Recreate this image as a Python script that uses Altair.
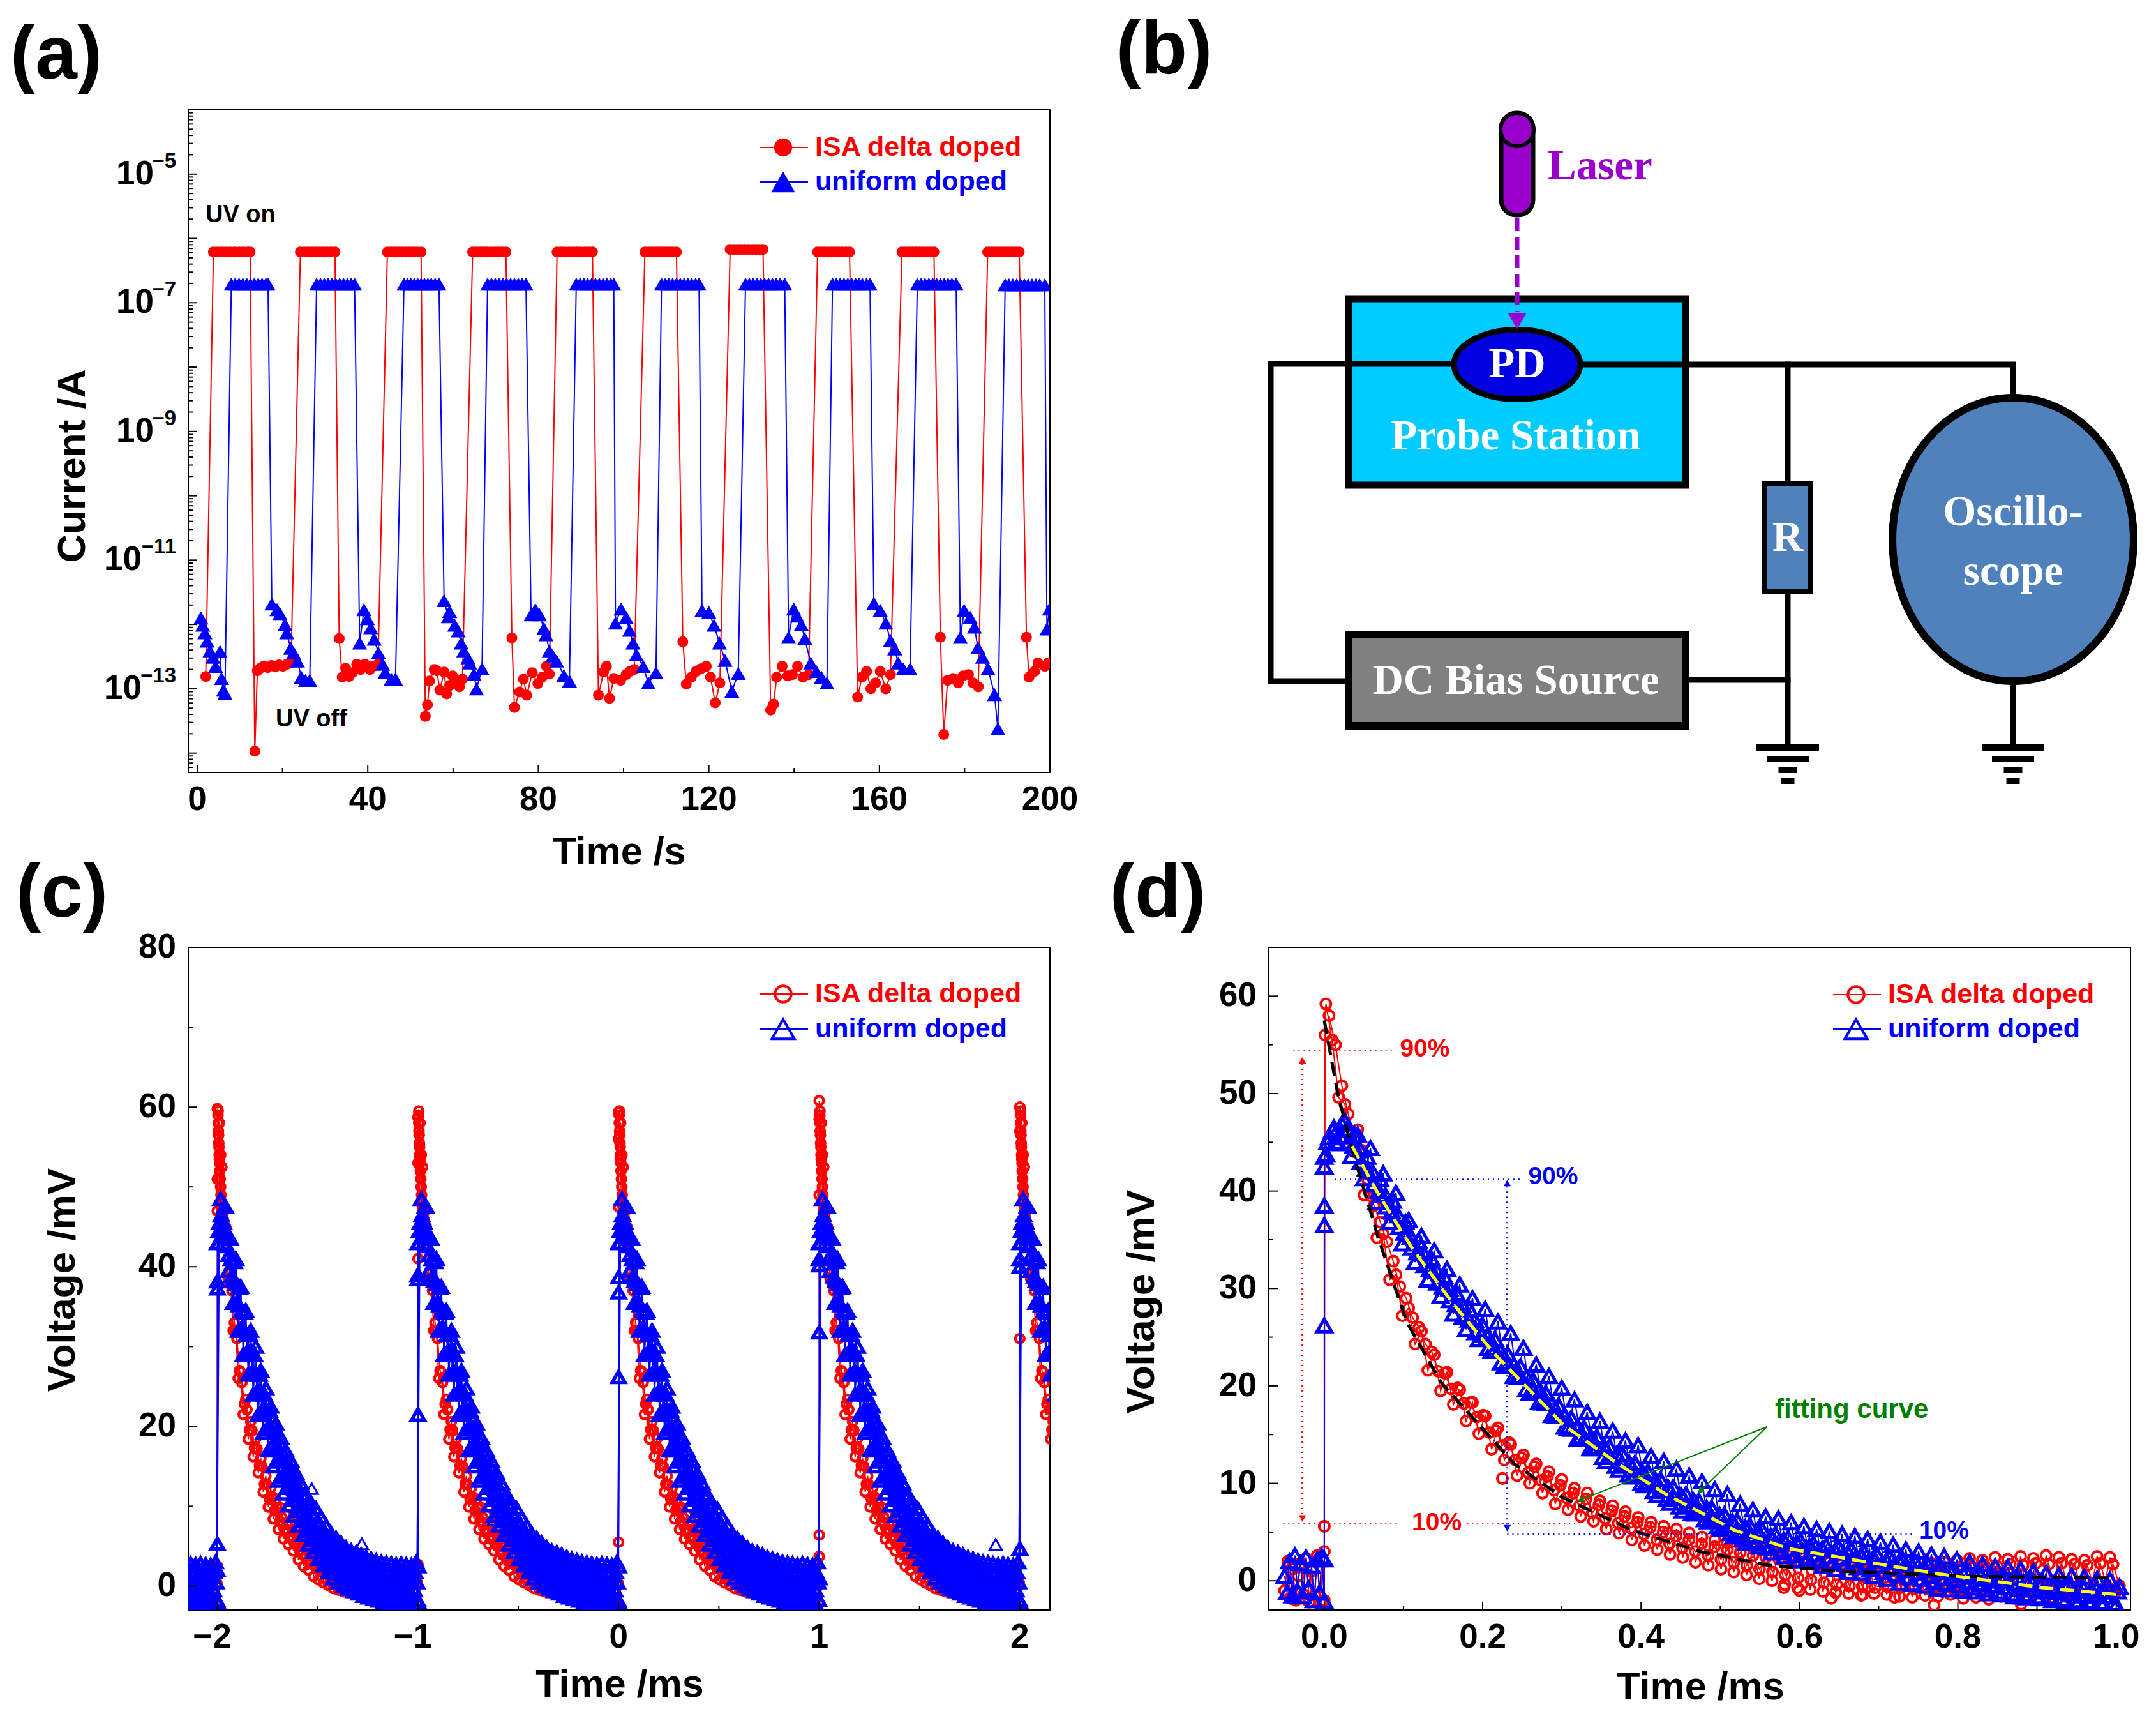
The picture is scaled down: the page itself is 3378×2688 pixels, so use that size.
import altair as alt
import pandas as pd

SANS = "Liberation Sans"
SERIF = "Liberation Serif"
RED = "#FF0000"
BLUE = "#0000FF"
GREEN = "#008000"
PURPLE = "#9900CC"
PANEL_W = 1350
PANEL_H = 1038
LEFT_1, LEFT_2 = 295, 1988
TOP_1, TOP_2 = 172, 1484

# ---------- panel (a): on-plateau times and levels, off-state samples (log10 of current)
RED_PRE_T = [2.0]
RED_PRE_LOG = [-12.81]
RED_ON_T = [
    [3.8,4.8,5.8,6.8,7.8,8.8,9.8,10.8,11.8,12.4],
    [24.2,25.1,26,26.9,27.8,28.7,29.6,30.5,31.4,32.3],
    [44.6,45.5,46.4,47.2,48,48.9,49.8,50.7,51.6,52.5],
    [64.6,65.5,66.4,67.2,68,68.9,69.8,70.6,71.5,72.4],
    [84.4,85.3,86.2,87.2,88.1,89,89.9,90.9,91.8,92.7],
    [105,105.8,106.6,107.4,108.2,109,109.8,110.6,111.5,112.4],
    [125,125.9,126.8,127.6,128.4,129.3,130.2,131,131.9,132.7],
    [145.5,146.3,147.1,148,148.8,149.6,150.4,151.3,152.2,153],
    [165.3,166.1,167,167.8,168.6,169.4,170.2,171.1,172,172.8],
    [185.4,186.2,187,187.8,188.6,189.4,190.2,191.1,192,192.8],
]
RED_ON_LEVEL = [-6.21,-6.21,-6.21,-6.21,-6.21,-6.21,-6.17,-6.21,-6.21,-6.21]
RED_OFF_T = [
    [13.5,14.1,14.8,15.6,16.5,17.4,18.3,19.2,20.1,21,22],
    [33.3,34,34.8,35.6,36.4,37.4,38.3,39.3,40.5,41.3,42.4],
    [53.5,54,54.5,55.6,56.2,56.9,57.9,58.5,59.2,59.9,60.7,61.5,62.2],
    [73.8,74.4,75.6,76.5,77.3,78.6,79.9,80.9,81.9,82.6],
    [94.1,95.3,96,96.7,97.7,99.3,100.6,101.5,102.5],
    [113.9,114.7,115.9,117,118.1,119.4,120.4,121.5,122.6],
    [134.5,135.2,135.9,137.2,138.5,139.6,140.8,142.1,143.4],
    [154.9,155.9,157,158,159.1,160.2,161.5,162.6],
    [174.3,175.1,176,177.3,178.5,179.6,180.9,182,183.2],
    [194.5,195.1,196.4,197.2,198.8,199.6],
]
RED_OFF_LOG = [
    [-13.97,-12.72,-12.68,-12.65,-12.67,-12.64,-12.66,-12.63,-12.65,-12.62,-12.6],
    [-12.22,-12.82,-12.68,-12.81,-12.75,-12.62,-12.7,-12.62,-12.7,-12.65,-12.62],
    [-13.43,-13.25,-12.88,-12.7,-12.72,-13.02,-12.74,-13.08,-12.95,-12.8,-12.9,-12.97,-12.85],
    [-12.21,-13.29,-13.05,-12.85,-13.1,-12.75,-12.92,-12.82,-12.65,-12.77],
    [-13.1,-12.74,-12.65,-13.15,-12.84,-12.87,-12.78,-12.73,-12.7],
    [-12.27,-12.93,-12.82,-12.73,-12.69,-12.65,-12.82,-13.22,-12.91],
    [-13.33,-13.24,-12.82,-12.65,-12.8,-12.78,-12.65,-12.82,-12.78],
    [-13.13,-12.82,-12.73,-13,-12.91,-12.73,-13,-12.78],
    [-12.2,-13.71,-12.87,-12.84,-12.91,-12.8,-12.78,-12.91,-12.97],
    [-12.2,-12.82,-12.73,-12.6,-12.65,-12.6],
]
BLUE_PRE_T = [0.87,1.3,1.8,2.3,3,3.7,4.3,5.35,5.7,6.15,6.5]
BLUE_PRE_LOG = [-11.9,-12.01,-12.13,-12.26,-12.41,-12.51,-12.65,-12.42,-12.84,-13.02,-13.07]
BLUE_ON_T = [
    [8,8.9,9.8,10.7,11.6,12.5,13.4,14.3,15.2,16.1,16.6],
    [28,28.9,29.8,30.7,31.6,32.5,33.4,34.3,35.2,36.1,36.9],
    [48.5,49.3,50.1,50.9,51.7,52.5,53.3,54.1,54.9,55.8,56.7],
    [68.1,69,69.9,70.8,71.7,72.6,73.5,74.4,75.3,76.2,77.1],
    [88.9,89.8,90.7,91.6,92.5,93.4,94.3,95.2,96.1,97,97.7],
    [108.9,109.8,110.6,111.5,112.4,113.3,114.2,115.1,116,116.9,117.7],
    [128.6,129.5,130.4,131.3,132.2,133.1,134,134.9,135.8,136.7,137.8],
    [149,149.9,150.8,151.7,152.6,153.5,154.4,155.2,156,157,157.8],
    [168.9,169.8,170.7,171.6,172.5,173.4,174.3,175.2,176.1,177,178],
    [189.5,190.4,191.3,192.2,193.1,194,194.9,195.8,196.7,197.6,198.8],
]
BLUE_ON_LEVEL = [-6.71,-6.71,-6.71,-6.71,-6.71,-6.71,-6.71,-6.71,-6.71,-6.72]
BLUE_OFF_T = [
    [17.5,18.7,19.4,20.6,21,21.9,22.6,23.5,24.4,25.4,26.4],
    [38.1,39.1,39.9,40.7,41.5,42.5,43.5,44.1,45.5,46.5],
    [57.9,58.9,59.2,60.4,61.2,61.9,62.5,63.5,63.9,64.9,65.5,66.8],
    [78.3,79.3,80.3,81.3,81.8,82.6,83.4,84.3,86,87.3],
    [98.1,99.4,100.6,101.4,102.2,103,104.6,105.8,107.6],
    [118.4,120,121.2,122.5,123.8,125.4,126.9],
    [138.7,139.9,140.7,141.7,142.5,143.9,145.2,146.4,147.7],
    [158.7,160.2,161.5,162.6,163.6,164.4,165.6,167.2],
    [179,179.9,181.3,182.3,183.1,184.2,185.5,187,187.8],
    [199.3,199.9],
]
BLUE_OFF_LOG = [
    [-11.68,-11.77,-11.83,-12,-12.13,-12.37,-12.44,-12.57,-12.82,-12.87,-12.87],
    [-12.29,-11.77,-11.91,-12.05,-12.23,-12.44,-12.62,-12.74,-12.85,-12.85],
    [-11.63,-11.88,-11.8,-12.01,-12.1,-12.29,-12.41,-12.52,-12.6,-12.77,-13,-12.69],
    [-11.85,-11.77,-11.85,-12.06,-12.16,-12.41,-12.49,-12.57,-12.79,-12.88],
    [-11.98,-11.76,-11.89,-12.09,-12.29,-12.47,-12.65,-12.91,-12.75],
    [-11.78,-11.81,-12.01,-12.29,-12.56,-13.04,-12.76],
    [-12.2,-11.76,-11.87,-12,-12.22,-12.6,-12.73,-12.82,-12.91],
    [-11.67,-11.78,-11.98,-12.25,-12.38,-12.6,-12.69,-12.69],
    [-12.2,-11.78,-11.89,-12.04,-12.36,-12.51,-12.69,-13.09,-13.62],
    [-12.07,-11.76],
]

C_STARTS = [-3, -2, -1, 0, 1, 2]
C_OFFSETS = [.004, .010, .007]
C_DT = 0.0125
RED_C = [
 [59.5,54,46,45,38.5,38,32,32,26,26.8,21.5,23.4,18.4,20.6,16.2,18.5,14.2,16,11.8,13.8,
  9.9,12.3,8.4,10.9,7.1,9.8,5.9,8.9,5.2,8,4.4,7.2,3.3,6.1,2.5,5.8,2,5,1.2,4.6,
  .8,4.2,.4,3.8,.1,3.3,-.3,3,-.5,2.8,-.7,2.6,-.8,2.5,-1,2.4,-1.1,2.3,-1.3,2.4,
  -1.2,2.2,-1.5,2.3,-1.4,2.1,-1.7,2.3,-1.6,2.2,-1.9,2.4,-1.8,2.2,-2,2.5,-2.1,2.3,-1.9,2.6],
 [58,52.5,47,44,39.5,37,33,31,27,25.5,22.8,22.1,19.6,19.5,17.3,17.2,15.1,15,12.8,12.7,
  10.9,11.2,9.5,9.8,8.1,8.6,7.1,7.7,6.2,6.8,5.3,5.8,4.5,5.1,3.7,4.4,3,3.7,2.5,3.3,
  2,2.8,1.6,2.4,1.2,2.1,.9,1.8,.7,1.6,.5,1.4,.4,1.3,.3,1.2,.2,1.1,.1,1,
  0,.9,-.1,.8,-.2,.7,-.2,.6,-.3,.6,-.3,.5,-.3,.5,-.4,.5,-.4,.4,-.4,.4],
]
RED_C_PEAK_T = [.003,.004,.005,.006,.007,.008,.009,.010,.011,.012,.014,.016,.018,.02,.022,.024]
RED_C_PEAK_V = [59,58,57,56.5,55.5,55,54,53.5,53,52,51,50,49,48,47.5,47]
BLUE_C = [
 [43,48.5,44,47.5,39.5,43.5,35.5,41,32,37.5,29,34.5,26.5,32,24,30,21.5,27,19.2,24.8,
  17,22.5,15,20.4,13.2,18.6,11.6,17,10.1,15.7,8.8,14.2,7.6,12.9,6.4,11.5,5.2,10.4,4.3,9.7,
  3.4,8.6,2.6,7.6,1.8,6.6,1,6,.5,5.4,0,4.8,-.3,4.4,-.6,4.2,-.9,3.9,-1.2,3.6,
  -1.4,3.4,-1.6,3.2,-1.8,3,-2,2.9,-2.1,2.8,-2.3,2.7,-2.4,2.8,-2.6,2.7,-2.7,2.6,-2.8,3],
 [45.5,44.8,47.5,42.6,43.6,38.8,40.6,35.6,37.4,32.4,34.3,29.3,31.5,26.8,29,24.3,26.5,22,24,19.7,
  22,17.5,20,15.6,18,13.7,16.4,12.3,15,10.8,13.6,9.4,12.1,8.1,11,6.9,9.8,5.8,8.7,4.8,
  7.8,3.8,6.8,3,6,2.2,5.4,1.6,4.9,1.2,4.5,.8,4.1,.4,3.7,0,3.3,-.4,2.9,-.8,
  2.6,-1,2.4,-1.3,2.2,-1.4,2,-1.6,1.9,-1.8,1.8,-1.8,1.8,-1.9,1.9,-1.8,1.7,-1.9,1.8,-1.7],
 [44.5,46.5,45.5,44,41.5,41,38.3,37.9,35.2,34.5,32,31.5,29.3,29,26.7,26.5,24.3,24.1,21.9,21.9,
  19.8,19.8,17.8,17.7,15.7,15.9,14.2,14.5,12.7,13,11.3,11.6,9.9,10.3,8.7,9,7.5,8,6.5,7,
  5.5,6,4.5,5.1,3.7,4.4,3.1,3.8,2.6,3.4,2.2,3,1.8,2.6,1.4,2.2,1,1.8,.6,1.4,
  .3,1.2,.1,1,-.1,.8,-.3,.6,-.4,.5,-.5,.5,-.5,.5,-.5,.5,-.5,.5,-.5,.5],
]
RED_C_RISE = [[], [2.5,47,51,59.8], [2.7,41,53,58.7], [5.5,47.5,56,59.4], [3.7,6.4,49,58.5,60.8], [4.4,31,57,60]]
BLUE_C_RISE = [[], [-2,2,5.3,37.3,38.2,43], [-2,2.5,21.5,38.5,39,43], [-2,2.5,26.2,36.8,38.7,43],
               [-3,1,31.8,40.2,41,43], [-2,4.7,40,41,43]]
BLUE_C_STRAY_T = [-1.53, 1.88, -0.62, -1.28]
BLUE_C_STRAY_V = [12.2, 5.2, 8.3, 5.3]

# ---------- panel (d)
RED_D_BASE_T = [-.05,-.046,-.043,-.04,-.036,-.033,-.03,-.026,-.023,-.019,-.016,-.012,-.009,-.005,-.002,0,0,0,.001]
RED_D_BASE_V = [-1,2,-1.8,1.2,-2,.5,1.8,-1.4,2.3,-2.2,1,-1.5,2.6,-2.3,2,-2,3,5.6,56]
BLUE_D_BASE_T = [-.05,-.047,-.044,-.04,-.037,-.034,-.03,-.027,-.023,-.02,-.016,-.013,-.009,-.006,-.003,0,0,0,0,0,0,0]
BLUE_D_BASE_V = [.5,-1.2,2,-1.5,2.6,-1,1.8,-1.6,2.4,-.8,1.5,-2,2.2,-1.2,2.5,-2.1,2.2,26.2,36.5,38.5,42.5,43.5]
D_OFFSETS = [.002, .006, .004]
RED_D = [
 [59.2,55.5,49.6,48.9,44.2,46.3,39.6,39.5,35.2,35.6,30.9,31.4,27.2,28,24.3,25.6,21.6,23.2,19.5,21.4,
  18.1,19.6,16.4,18.3,15.1,16.9,13.5,15.7,12.4,14,10.8,12.9,10,12,9,11.2,7.9,10.4,7.3,9.5,
  6.6,9,6.1,8.2,5.3,7.7,4.9,7.1,4.2,6.5,3.6,6,3.2,5.6,2.7,5.3,2.4,4.9,1.9,4.5,1.6,
  4.2,1.2,3.9,.9,3.7,.6,3.3,.2,3.1,0,2.8,-.4,2.6,-.7,2.3,-.9,2.2,-1.1,1.9,-1.2,1.7,-1.3,1.6,-1.5,
  1.4,-1.3,1.5,-1.4,1.3,-1.6,1.5,-1.7,1.4,-1.5,1.8,-1.6,1.9,-1.4,2.1,-1.8,2.3,-1.7,2.1,-1.9,2.4,
  -1.6,2.2,-1.8,2.5,-1.5,2.3,-1.9,2.6,-1.7,2.4,-1.6,2.2,-1.4,2.1,-1.3,2.5,-1.2,2.4,-1.1],
 [58,55,50.8,47.9,45.4,44.2,41.2,38.5,36.8,34.8,32.8,30.2,29,27,26,24.3,23.5,21.5,21.3,19.7,
  19.8,18.2,18.3,16.8,17,15.2,15.4,13.9,14.2,12.4,12.6,11.1,11.7,10.3,10.7,9.3,9.8,8.5,9,7.7,
  8.4,7,7.8,6.4,7.2,5.9,6.6,5.4,6,4.8,5.5,4.2,5,3.8,4.6,3.4,4.2,3,3.8,2.6,3.5,2.2,3.2,1.9,2.9,
  1.6,2.6,1.2,2.4,.9,2.2,.6,2,.3,1.8,.1,1.6,-.2,1.4,-.4,1.3,-.5,1.2,-.6,1.1,-.7,1,-.6,1,-.7,.9,
  -.8,1,-.8,1.1,-.7,1.3,-.8,1.4,-.7,1.5,-.9,1.6,-.8,1.5,-.9,1.7,-.8,1.6,-.9,1.8,-.7,1.7,-.9,1.8,
  -.8,1.7,-.7,1.6,-.6,1.8,-.5,1.7,-.5],
]
BLUE_D = [
 [43.8,46.2,44.9,47.2,43.6,45.8,41.3,44.4,38.9,41.8,36.8,39.8,34.6,37,32.7,35.4,30.9,33.9,29.2,32,
  27.4,30.4,25.8,29,24.8,27.9,23.6,26.6,22,25.4,20.9,23.9,19.3,22.2,18.3,21,16.9,19.8,15.7,18.6,
  14.8,17.3,13.6,16.4,12.3,15.4,11.4,14.4,10.7,13.9,9.8,12.8,8.8,12.3,8,11.5,7.2,10.8,6.9,10.2,
  6.1,9.4,5.3,8.9,4.6,7.9,3.9,7.3,3.5,6.6,2.9,6.4,2.5,6,2.1,5.6,1.9,5.3,1.5,5.1,1.2,4.8,.9,4.6,
  .8,4.3,.5,4,.2,3.7,-.2,3.2,-.3,3,-.5,2.7,-.8,2.5,-.9,2.2,-1,1.9,-1.1,1.7,-1.3,1.5,-1.4,1.4,
  -1.6,1.2,-1.7,1,-1.8,.8,-2,.6,-2.1,.5,-2.2,.4,-2.3,.2,-2.4,.1,-2.5],
 [45.5,45,46.9,45,45.8,43,43.5,40.7,41.2,38.4,39,36.3,36.8,34.2,34.9,32.4,33.1,30.6,31.3,28.8,
  29.5,27.1,27.9,25.5,26.3,23.9,24.8,22.4,23.3,21,22,19.7,20.6,18.4,19.3,17,18,15.8,16.7,14.6,
  15.7,13.6,14.8,12.7,13.8,11.8,13,10.9,12.1,10,11.2,9.2,10.4,8.4,9.6,7.6,8.9,7,8.2,6.3,
  7.5,5.6,6.8,4.9,6.2,4.3,5.7,3.9,5.2,3.4,4.8,3,4.4,2.6,4.1,2.3,3.8,2.1,3.6,1.9,3.4,1.7,3.2,1.4,
  2.9,1.2,2.6,.9,2.4,.7,2.2,.4,1.9,.2,1.6,-.1,1.4,-.3,1.2,-.5,1,-.7,.8,-.9,.6,-1.1,.4,-1.3,
  .3,-1.4,.1,-1.6,-.1,-1.7,-.2,-1.9,-.3,-2,-.4,-2.1,-.4,-2.2,-.5,-2.3,-.6],
 [45,46.5,45.6,46.3,44.6,44.3,42.3,42,40,39.6,37.9,37.5,35.7,35.3,33.7,33.6,32,31.8,30.2,30,
  28.4,28.3,26.8,26.7,25.2,25.1,23.7,23.6,22.2,22.2,20.9,20.9,19.5,19.6,18.2,18.2,16.9,16.9,15.6,15.8,
  14.6,14.8,13.7,13.9,12.7,13,11.9,12.1,11,11.2,10.1,10.4,9.3,9.6,8.5,8.8,7.8,8.2,7.1,7.5,
  6.4,6.8,5.7,6.1,5.1,5.5,4.6,5.1,4.1,4.6,3.7,4.2,3.3,3.9,3,3.6,2.7,3.3,2.5,3.1,2.3,2.9,2.1,2.6,
  1.8,2.4,1.5,2.1,1.3,1.9,1.1,1.6,.8,1.3,.5,1.1,.3,.9,.1,.6,-.1,.4,-.3,.2,-.5,0,-.6,-.2,
  -.8,-.3,-.9,-.5,-1.1,-.6,-1.2,-.8,-1.3,-.9,-1.5,-1,-1.5,-1.1,-1.6,-1.1],
]
RED_D_STRAY_T = [.225,.58,.77,.72,.64,.88,.97,.6,.68]
RED_D_STRAY_V = [10.5,-.7,-2.5,-1.7,-1.8,-2.4,-2.4,-1,-1.4]
FIT_RED_T = [0,.017,.036,.069,.104,.147,.19,.24,.30,.388,.475,.56,.647,.82,.99]
FIT_RED_V = [57.5,50,44,35,26.6,20.4,16.5,12,8.6,5.2,3,1.6,1,.45,.3]
FIT_BLUE_T = [.035,.069,.112,.164,.216,.259,.302,.371,.431,.518,.587,.673,.777,.906,1.0]
FIT_BLUE_V = [44.6,39.6,34,28.3,23.2,19.6,16,12,8.9,5.2,3.3,2.1,.7,-.7,-1.4]


def frame_ticks(sx, sy, xmaj, xmin, ymaj, ymin, H):
    out = []
    for vals, ln in ((xmaj, 12), (xmin, 7)):
        out.append(alt.Chart(pd.DataFrame({"v": vals})).mark_rule(color="black", strokeWidth=2).encode(
            x=alt.X("v:Q", scale=sx, axis=None, title=None), y=alt.value(H), y2=alt.value(H - ln)))
    for vals, ln in ((ymaj, 14), (ymin, 7)):
        out.append(alt.Chart(pd.DataFrame({"v": vals})).mark_rule(color="black", strokeWidth=2).encode(
            y=alt.Y("v:Q", scale=sy, axis=None, title=None), x=alt.value(0), x2=alt.value(ln)))
    return out


def xlabels(sx, vals, texts, H, dx=0):
    d = pd.DataFrame({"v": vals, "s": texts})
    return alt.Chart(d).mark_text(font=SANS, fontSize=53, fontWeight="bold", color="black", align="center",
                                  baseline="middle", dx=dx).encode(
        x=alt.X("v:Q", scale=sx, axis=None, title=None), y=alt.value(H + 43), text="s:N")


def ylabels(sy, vals, texts):
    d = pd.DataFrame({"v": vals, "s": texts})
    return alt.Chart(d).mark_text(font=SANS, fontSize=53, fontWeight="bold", color="black", align="right",
                                  baseline="middle").encode(
        y=alt.Y("v:Q", scale=sy, axis=None, title=None), x=alt.value(-19), text="s:N")


def series(t, v, color, shape, filled, size, sx, sy, sw=3):
    df = pd.DataFrame({"t": t, "v": v, "i": list(range(len(t)))})
    x = alt.X("t:Q", scale=sx, axis=None, title=None)
    y = alt.Y("v:Q", scale=sy, axis=None, title=None)
    line = alt.Chart(df).mark_line(color=color, strokeWidth=2, clip=True).encode(x=x, y=y, order="i:Q")
    pts = alt.Chart(df).mark_point(shape=shape, size=size, color=color, filled=filled, opacity=1,
                                   strokeWidth=sw, clip=True).encode(x=x, y=y)
    return [line, pts]


def points(t, v, color, shape, size, sx, sy, sw=3):
    return alt.Chart(pd.DataFrame({"t": t, "v": v})).mark_point(
        shape=shape, size=size, color=color, filled=False, opacity=1, strokeWidth=sw, clip=True).encode(
        x=alt.X("t:Q", scale=sx, axis=None, title=None), y=alt.Y("v:Q", scale=sy, axis=None, title=None))


def label(txt, X, Y, L, T, size, color="black", font=SANS, align="center", angle=0, weight="bold"):
    return alt.Chart(alt.Data(values=[{"a": 1}])).mark_text(
        text=txt, font=font, fontSize=size, fontWeight=weight, color=color, align=align,
        baseline="middle", angle=angle).encode(x=alt.value(X - L), y=alt.value(Y - T))


def legend(rows, x1, xm, x2, xt, L, T, fsize):
    out = []
    for txt, Y, color, shape, filled, size in rows:
        out.append(alt.Chart(alt.Data(values=[{"a": 1}])).mark_rule(color=color, strokeWidth=2).encode(
            x=alt.value(x1 - L), x2=alt.value(x2 - L), y=alt.value(Y - T)))
        out.append(alt.Chart(alt.Data(values=[{"a": 1}])).mark_point(
            shape=shape, size=size, color=color, filled=filled, opacity=1, strokeWidth=4).encode(
            x=alt.value(xm - L), y=alt.value(Y - T)))
        out.append(label(txt, xt, Y, L, T, fsize, color=color, align="left"))
    return out


VIEW = alt.ViewBackground(stroke="black", strokeWidth=2, fill="white")

# ================= (a)
sxa = alt.Scale(domain=[-2.1, 200], nice=False, zero=False)
sya = alt.Scale(type="log", domain=[5e-15, 1e-4], nice=False)
ra_t, ra_v, ba_t, ba_v = list(RED_PRE_T), [10 ** x for x in RED_PRE_LOG], list(BLUE_PRE_T), [10 ** x for x in BLUE_PRE_LOG]
for k in range(10):
    ra_t += RED_ON_T[k] + RED_OFF_T[k]
    ra_v += [10 ** RED_ON_LEVEL[k]] * len(RED_ON_T[k]) + [10 ** x for x in RED_OFF_LOG[k]]
    ba_t += BLUE_ON_T[k] + BLUE_OFF_T[k]
    ba_v += [10 ** BLUE_ON_LEVEL[k]] * len(BLUE_ON_T[k]) + [10 ** x for x in BLUE_OFF_LOG[k]]
decades = [1e-14, 1e-13, 1e-12, 1e-11, 1e-10, 1e-9, 1e-8, 1e-7, 1e-6, 1e-5]
minors = [m * d for d in [1e-15] + decades for m in (2, 3, 4, 5, 6, 7, 8, 9) if 5e-15 <= m * d <= 1e-4]
tick_exps = ["5", "7", "9", "11", "13"]
tick_vals = [1e-5, 1e-7, 1e-9, 1e-11, 1e-13]
layers_a = series(ra_t, ra_v, RED, "circle", True, 290, sxa, sya) + \
    series(ba_t, ba_v, BLUE, "triangle-up", True, 560, sxa, sya)
layers_a += frame_ticks(sxa, sya, [0, 40, 80, 120, 160, 200], [20, 60, 100, 140, 180], decades, minors, PANEL_H)
layers_a.append(xlabels(sxa, [0, 40, 80, 120, 160, 200], ["0", "40", "80", "120", "160", "200"], PANEL_H))
for ex, val in zip(tick_exps, tick_vals):
    px = -54 if len(ex) == 1 else -73
    d = pd.DataFrame({"v": [val]})
    layers_a.append(alt.Chart(d).mark_text(text="10", font=SANS, fontSize=53, fontWeight="bold", align="right",
                                           baseline="middle").encode(
        x=alt.value(px), y=alt.Y("v:Q", scale=sya, axis=None, title=None)))
    layers_a.append(alt.Chart(d).mark_text(text="\u2212" + ex, font=SANS, fontSize=33, fontWeight="bold", align="right",
                                           baseline="middle", dy=-20).encode(
        x=alt.value(-19), y=alt.Y("v:Q", scale=sya, axis=None, title=None)))
layers_a += [
    label("Time /s", 970, 1336, LEFT_1, TOP_1, 61),
    label("Current /A", 114, 730, LEFT_1, TOP_1, 62, angle=270),
    label("UV on", 322, 337, LEFT_1, TOP_1, 38, align="left"),
    label("UV off", 432, 1127, LEFT_1, TOP_1, 38, align="left"),
    label("(a)", 88, 88, LEFT_1, TOP_1, 118),
]
layers_a += legend([("ISA delta doped", 231, RED, "circle", True, 800),
                    ("uniform doped", 285, BLUE, "triangle-up", True, 1400)],
                   1190, 1227, 1266, 1277, LEFT_1, TOP_1, 43)
panel_a = alt.layer(*layers_a).properties(width=PANEL_W, height=PANEL_H, view=VIEW)

# ================= (b)
sxb = alt.Scale(domain=[LEFT_2, LEFT_2 + PANEL_W], nice=False, zero=False)
syb = alt.Scale(domain=[TOP_1 + PANEL_H, TOP_1], nice=False, zero=False)
BOX_ROWS = [
    (2113, 2641, 468, 760, "#00CCFF", 11),
    (2113, 2641, 994, 1137, "#808080", 12),
]
WIRES = [
    [(2278, 570), (1991, 570), (1991, 1067), (2108, 1067)],
    [(2476, 571), (3154, 571), (3154, 622)],
    [(2646, 1065), (2801, 1065)],
    [(2801, 571), (2801, 1169)],
    [(3154, 1067), (3154, 1169)],
]
GROUND_BARS = [(98, 1171), (66, 1189), (29, 1206), (21, 1223)]
GROUND_X = [2801, 3154]
ELLIPSE_PD = "M-1,0 A1,0.55 0 1,1 1,0 A1,0.55 0 1,1 -1,0 Z"
ELLIPSE_OSC = "M-0.851,0 A0.851,1 0 1,1 0.851,0 A0.851,1 0 1,1 -0.851,0 Z"


def bx(f="x"):
    return alt.X(f + ":Q", scale=sxb, axis=None, title=None)


def by(f="y"):
    return alt.Y(f + ":Q", scale=syb, axis=None, title=None)


def box(x1, x2, y1, y2, fill, sw, **kw):
    d = pd.DataFrame({"x": [x1], "x2": [x2], "y": [y1], "y2": [y2]})
    return alt.Chart(d).mark_rect(fill=fill, stroke="black", strokeWidth=sw, **kw).encode(
        x=bx(), x2="x2:Q", y=by(), y2="y2:Q")


def shape_pt(x, y, shape, size, fill, sw):
    d = pd.DataFrame({"x": [x], "y": [y]})
    return alt.Chart(d).mark_point(shape=shape, size=size, fill=fill, stroke="black", strokeWidth=sw,
                                   filled=True, opacity=1).encode(x=bx(), y=by())


layers_b = [box(*r) for r in BOX_ROWS]
for w_i, w in enumerate(WIRES):
    d = pd.DataFrame({"x": [p[0] for p in w], "y": [p[1] for p in w], "i": list(range(len(w)))})
    layers_b.append(alt.Chart(d).mark_line(color="black", strokeWidth=9, strokeCap="square").encode(
        x=bx(), y=by(), order="i:Q"))
for gx in GROUND_X:
    d = pd.DataFrame({"x": [gx - w / 2 for w, _ in GROUND_BARS], "x2": [gx + w / 2 for w, _ in GROUND_BARS],
                      "y": [y for _, y in GROUND_BARS]})
    layers_b.append(alt.Chart(d).mark_rule(color="black", strokeWidth=10).encode(x=bx(), x2="x2:Q", y=by()))
layers_b.append(box(2764, 2837, 757, 926, "#4F81BD", 8))
layers_b.append(box(2352, 2402, 177, 337, PURPLE, 7, cornerRadius=24))
layers_b.append(shape_pt(2377, 203, "circle", 2700, PURPLE, 6))
layers_b.append(shape_pt(2377, 571, ELLIPSE_PD, 39204, "#0000E0", 9))
layers_b.append(shape_pt(3154, 845, ELLIPSE_OSC, 197136, "#4F81BD", 12))
d = pd.DataFrame({"x": [2377, 2377], "y": [342, 489], "i": [0, 1]})
layers_b.append(alt.Chart(d).mark_line(color=PURPLE, strokeWidth=7, strokeDash=[20, 9]).encode(
    x=bx(), y=by(), order="i:Q"))
d = pd.DataFrame({"x": [2377], "y": [503]})
layers_b.append(alt.Chart(d).mark_point(shape="triangle-down", size=841, color=PURPLE, filled=True, opacity=1).encode(
    x=bx(), y=by()))
for txt, X, Y, col, al in [("Laser", 2425, 261, PURPLE, "left"), ("PD", 2377, 571, "white", "center"),
                           ("Probe Station", 2375, 684, "white", "center"),
                           ("DC Bias Source", 2375, 1067, "white", "center"),
                           ("R", 2801, 843, "white", "center"), ("Oscillo-", 3154, 803, "white", "center"),
                           ("scope", 3154, 896, "white", "center")]:
    layers_b.append(label(txt, X, Y, LEFT_2, TOP_1, 67, color=col, font=SERIF, align=al))
layers_b.append(label("(b)", 1824, 80, LEFT_2, TOP_1, 118))
panel_b = alt.layer(*layers_b).properties(width=PANEL_W, height=PANEL_H, view=alt.ViewBackground(stroke=None))

# ================= (c)
sxc = alt.Scale(domain=[-2.145, 2.15], nice=False, zero=False)
syc = alt.Scale(domain=[-3, 80], nice=False, zero=False)


def inside(ts, vs):
    kept = [(a, b) for a, b in zip(ts, vs) if -2.2 <= a <= 2.2]
    return [a for a, _ in kept], [b for _, b in kept]


layers_c = []
for tier, trace in enumerate(RED_C):
    rc_t, rc_v = [], []
    for k, st in enumerate(C_STARTS):
        if tier == 0:
            rc_t += [st] * len(RED_C_RISE[k]) + [round(st + x, 4) for x in RED_C_PEAK_T]
            rc_v += RED_C_RISE[k] + RED_C_PEAK_V
        rc_t += [round(st + C_OFFSETS[tier] + i * C_DT, 4) for i in range(len(trace))]
        rc_v += trace
    a_, b_ = inside(rc_t, rc_v)
    layers_c += series(a_, b_, RED, "circle", False, 190, sxc, syc, sw=4.5)
for tier, trace in enumerate(BLUE_C):
    bc_t, bc_v = [], []
    for k, st in enumerate(C_STARTS):
        if tier == 0:
            bc_t += [st] * len(BLUE_C_RISE[k])
            bc_v += BLUE_C_RISE[k]
        bc_t += [round(st + C_OFFSETS[tier] + i * C_DT, 4) for i in range(len(trace))]
        bc_v += trace
    a_, b_ = inside(bc_t, bc_v)
    layers_c += series(a_, b_, BLUE, "triangle-up", False, 400, sxc, syc, sw=5.5)
layers_c.append(points(BLUE_C_STRAY_T, BLUE_C_STRAY_V, BLUE, "triangle-up", 380, sxc, syc))
layers_c += frame_ticks(sxc, syc, [-2, -1, 0, 1, 2], [-1.5, -.5, .5, 1.5], [0, 20, 40, 60, 80], [10, 30, 50, 70], PANEL_H)
layers_c.append(xlabels(sxc, [-2, -1], ["\u22122", "\u22121"], PANEL_H, dx=-8))
layers_c.append(xlabels(sxc, [0, 1, 2], ["0", "1", "2"], PANEL_H))
layers_c.append(ylabels(syc, [0, 20, 40, 60, 80], ["0", "20", "40", "60", "80"]))
layers_c += [
    label("Time /ms", 971, 2640, LEFT_1, TOP_2, 61),
    label("Voltage /mV", 98, 2005, LEFT_1, TOP_2, 62, angle=270),
    label("(c)", 97, 1401, LEFT_1, TOP_2, 118),
]
layers_c += legend([("ISA delta doped", 1557, RED, "circle", False, 650),
                    ("uniform doped", 1612, BLUE, "triangle-up", False, 1250)],
                   1190, 1227, 1266, 1277, LEFT_1, TOP_2, 43)
panel_c = alt.layer(*layers_c).properties(width=PANEL_W, height=PANEL_H, view=VIEW)

# ================= (d)
sxd = alt.Scale(domain=[-0.07, 1.018], nice=False, zero=False)
syd = alt.Scale(domain=[-3, 65], nice=False, zero=False)
layers_d = []
for tier, trace in enumerate(RED_D):
    tt = [round(D_OFFSETS[tier] + i * (1.0 - .002) / (len(trace) - 1), 4) for i in range(len(trace))]
    if tier == 0:
        layers_d += series(RED_D_BASE_T + tt, RED_D_BASE_V + trace, RED, "circle", False, 260, sxd, syd, sw=4)
    else:
        layers_d += series(tt, trace, RED, "circle", False, 260, sxd, syd, sw=4)
layers_d.append(points(RED_D_STRAY_T, RED_D_STRAY_V, RED, "circle", 260, sxd, syd, sw=4))
for tier, trace in enumerate(BLUE_D):
    tt = [round(D_OFFSETS[tier] + i * (1.0 - .002) / (len(trace) - 1), 4) for i in range(len(trace))]
    if tier == 0:
        layers_d += series(BLUE_D_BASE_T + tt, BLUE_D_BASE_V + trace, BLUE, "triangle-up", False, 540, sxd, syd, sw=5)
    else:
        layers_d += series(tt, trace, BLUE, "triangle-up", False, 540, sxd, syd, sw=5)
for ft, fv, col in ((FIT_RED_T, FIT_RED_V, "black"), (FIT_BLUE_T, FIT_BLUE_V, "#FFFF00")):
    d = pd.DataFrame({"t": ft, "v": fv})
    layers_d.append(alt.Chart(d).mark_line(color=col, strokeWidth=5, strokeDash=[22, 11], clip=True).encode(
        x=alt.X("t:Q", scale=sxd, axis=None, title=None), y=alt.Y("v:Q", scale=syd, axis=None, title=None)))
layers_d += frame_ticks(sxd, syd, [0, .2, .4, .6, .8, 1.0], [.1, .3, .5, .7, .9],
                        [0, 10, 20, 30, 40, 50, 60], [5, 15, 25, 35, 45, 55], PANEL_H)
layers_d.append(xlabels(sxd, [0, .2, .4, .6, .8, 1.0], ["0.0", "0.2", "0.4", "0.6", "0.8", "1.0"], PANEL_H))
layers_d.append(ylabels(syd, [0, 10, 20, 30, 40, 50, 60], ["0", "10", "20", "30", "40", "50", "60"]))
SEGMENTS = [
    (-.039, 54.4, .09, 54.4, RED, 2), (-.052, 5.85, .095, 5.85, RED, 2), (.18, 5.85, .32, 5.85, RED, 2),
    (-.0276, 53.6, -.0276, 6.2, RED, 3), (.013, 41.2, .25, 41.2, BLUE, 2), (.231, 41, .231, 5.2, BLUE, 3),
    (.231, 4.8, .742, 4.8, BLUE, 2),
]
for x1, y1, x2, y2, col, sw in SEGMENTS:
    d = pd.DataFrame({"t": [x1, x2], "v": [y1, y2], "i": [0, 1]})
    layers_d.append(alt.Chart(d).mark_line(color=col, strokeWidth=sw, strokeDash=[2, 6]).encode(
        x=alt.X("t:Q", scale=sxd, axis=None, title=None), y=alt.Y("v:Q", scale=syd, axis=None, title=None), order="i:Q"))
for x1, y1, x2, y2 in [(.559, 15.8, .3236, 8.3), (.559, 15.8, .4745, 9.2)]:
    d = pd.DataFrame({"t": [x1, x2], "v": [y1, y2], "i": [0, 1]})
    layers_d.append(alt.Chart(d).mark_line(color=GREEN, strokeWidth=2).encode(
        x=alt.X("t:Q", scale=sxd, axis=None, title=None), y=alt.Y("v:Q", scale=syd, axis=None, title=None), order="i:Q"))
ARROWS = [(-.0276, 53.4, 0, RED), (-.0276, 6.4, 180, RED), (.231, 40.8, 0, BLUE), (.231, 5.4, 180, BLUE),
          (.3236, 8.3, 249, GREEN), (.4745, 9.2, 225, GREEN)]
for x1, y1, ang, col in ARROWS:
    d = pd.DataFrame({"t": [x1], "v": [y1]})
    layers_d.append(alt.Chart(d).mark_point(shape="triangle-up", size=130, color=col, filled=True, opacity=1, angle=ang).encode(
        x=alt.X("t:Q", scale=sxd, axis=None, title=None), y=alt.Y("v:Q", scale=syd, axis=None, title=None)))
for txt, t, v, col, size in [("90%", .127, 54.6, RED, 39), ("10%", .142, 5.95, RED, 39), ("90%", .289, 41.5, BLUE, 39),
                             ("10%", .7826, 5.1, BLUE, 39), ("fitting curve", .666, 17.6, GREEN, 42)]:
    d = pd.DataFrame({"t": [t], "v": [v]})
    layers_d.append(alt.Chart(d).mark_text(text=txt, font=SANS, fontSize=size, fontWeight="bold", color=col,
                                           baseline="middle").encode(
        x=alt.X("t:Q", scale=sxd, axis=None, title=None), y=alt.Y("v:Q", scale=syd, axis=None, title=None)))
layers_d += [
    label("Time /ms", 2664, 2644, LEFT_2, TOP_2, 61),
    label("Voltage /mV", 1789, 2039, LEFT_2, TOP_2, 62, angle=270),
    label("(d)", 1814, 1401, LEFT_2, TOP_2, 118),
]
layers_d += legend([("ISA delta doped", 1558, RED, "circle", False, 650),
                    ("uniform doped", 1612, BLUE, "triangle-up", False, 1250)],
                   2872, 2908, 2947, 2958, LEFT_2, TOP_2, 43)
panel_d = alt.layer(*layers_d).properties(width=PANEL_W, height=PANEL_H, view=VIEW)

chart = alt.concat(panel_a, panel_b, panel_c, panel_d, columns=2, bounds="flush",
                   spacing=alt.RowColnumber(row=TOP_2 - TOP_1 - PANEL_H, column=LEFT_2 - LEFT_1 - PANEL_W)).properties(
    padding={"left": LEFT_1 - 8, "top": TOP_1 - 8, "right": 3362 - (LEFT_1 - 8), "bottom": 2672 - (TOP_1 - 8)},
    autosize=alt.AutoSizeParams(type="none"),
    background="white",
)
chart.save("out.html", embed_options={"renderer": "svg", "actions": False})
